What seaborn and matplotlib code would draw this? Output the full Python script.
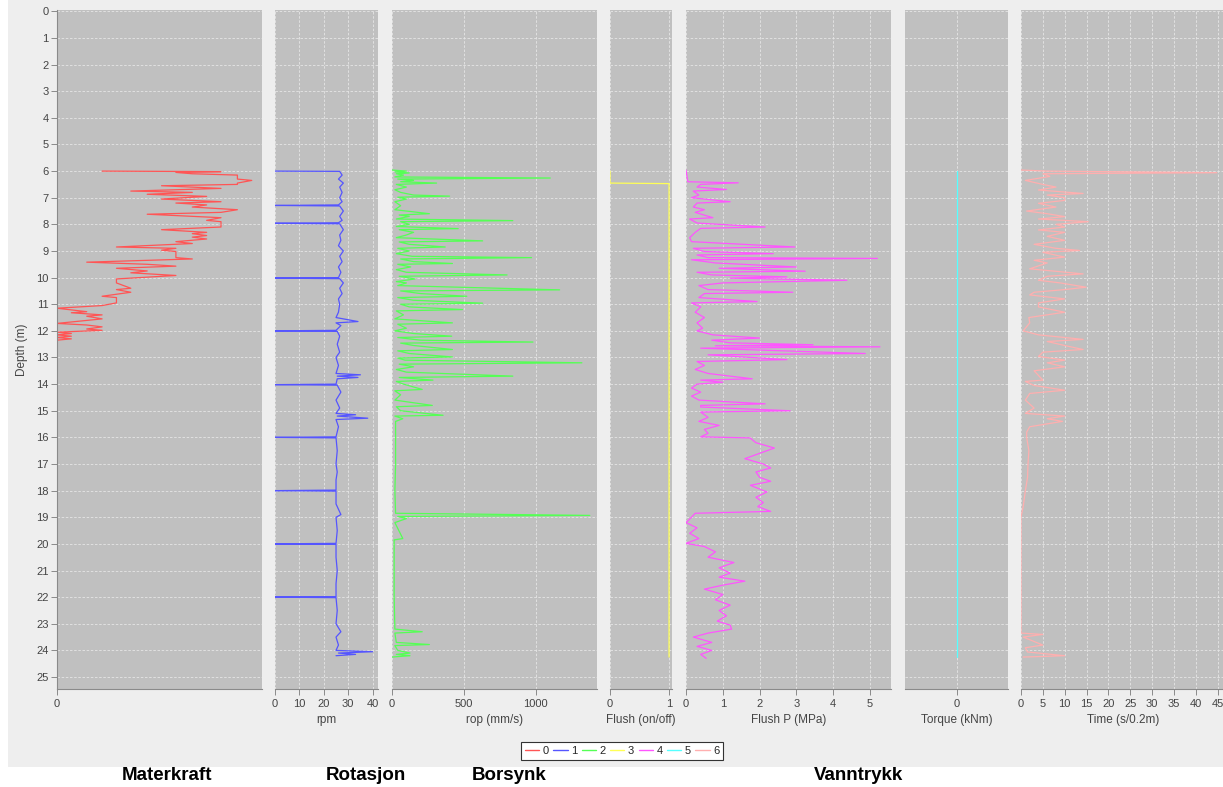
import matplotlib
matplotlib.use('Agg')
import matplotlib.pyplot as plt
import seaborn as sns
from matplotlib.patches import Rectangle
from matplotlib.lines import Line2D

W, H = 1223, 787

# ---- data: depth (m) and value for each log ----
mat_depth = [6.0, 6.02, 6.05, 6.1, 6.15, 6.3, 6.35, 6.45, 6.5, 6.55, 6.65, 6.75, 6.8, 6.87,
             6.95, 7.05, 7.15, 7.2, 7.27, 7.35, 7.45, 7.55, 7.62, 7.75, 7.85, 7.9, 8.1, 8.2,
             8.3, 8.35, 8.42, 8.48, 8.55, 8.65, 8.72, 8.85, 8.9, 8.97, 9.02, 9.25, 9.3, 9.42,
             9.5, 9.57, 9.65, 9.75, 9.82, 9.92, 10.05, 10.2, 10.4, 10.45, 10.55, 10.7, 10.75,
             10.95, 11.05, 11.15, 11.28, 11.32, 11.4, 11.45, 11.55, 11.72, 11.78, 11.85, 11.93,
             11.98, 12.05, 12.1, 12.15, 12.2, 12.25, 12.3, 12.35, 24.27]
mat_val = [2.2, 8.0, 5.8, 6.6, 8.8, 8.8, 9.5, 8.8, 8.8, 5.1, 8.0, 3.6, 6.6, 4.4,
           7.3, 5.1, 8.0, 5.8, 7.3, 6.6, 8.8, 8.0, 4.4, 8.0, 7.3, 8.0, 8.0, 5.1,
           7.3, 6.6, 7.3, 6.6, 7.3, 5.8, 6.6, 2.9, 5.8, 5.1, 5.8, 5.8, 6.6, 1.45,
           4.4, 5.8, 2.9, 4.4, 3.6, 5.8, 2.9, 2.9, 3.6, 2.9, 3.6, 2.2, 2.9,
           2.9, 2.2, 0.0, 1.45, 0.7, 2.2, 1.45, 2.2, 0.0, 1.45, 2.2, 1.45,
           2.2, 0.0, 0.7, 0.0, 0.7, 0.0, 0.7, 0.0, 0.0]

rpm_depth = [6.0, 6.01, 6.15, 6.3, 6.45, 6.6, 6.8, 7.0, 7.15, 7.27, 7.29, 7.31, 7.5, 7.7, 7.85,
             7.94, 7.96, 7.98, 8.2, 8.4, 8.6, 8.8, 9.0, 9.2, 9.4, 9.6, 9.8, 10.0, 10.02, 10.04,
             10.2, 10.4, 10.6, 10.8, 11.0, 11.3, 11.5, 11.65, 11.7, 11.8, 11.98, 12.0, 12.02,
             12.2, 12.5, 12.8, 13.0, 13.3, 13.6, 13.65, 13.7, 13.75, 13.8, 14.0, 14.02, 14.04,
             14.3, 14.6, 14.9, 15.1, 15.15, 15.2, 15.28, 15.33, 15.6, 15.98, 16.0, 16.02, 16.5,
             17.0, 17.3, 17.6, 17.98, 18.0, 18.02, 18.5, 18.9, 19.0, 19.5, 19.98, 20.0, 20.02,
             20.5, 21.0, 21.5, 21.98, 22.0, 22.02, 22.5, 23.0, 23.3, 23.5, 23.8, 24.0, 24.05,
             24.1, 24.15, 24.2]
rpm_val = [0, 26.5, 27.5, 26, 28, 26.5, 27.5, 26.5, 27.5, 26, 0, 26.5, 28, 26.5, 27.5,
           26, 0, 26.5, 28, 26.5, 27, 26, 28, 26.5, 27.5, 26, 27, 26, 0, 26.5,
           28, 26.5, 27.5, 26, 26.5, 26, 25, 34, 25, 27, 25, 0, 25.5,
           26.5, 25.5, 26.5, 25, 26, 25, 35, 25.5, 34, 25.5, 25, 0, 25.5,
           27, 25, 26.5, 25, 33, 25.5, 38, 25, 26, 25, 0, 25, 25.5,
           25, 25.5, 25, 25, 0, 25, 25, 27, 25, 25.5, 25, 0, 25,
           25, 25.5, 25, 25, 0, 25, 25.5, 25, 27, 25, 26, 25, 40,
           26, 33, 25]

rop_depth = [5.96, 6.0, 6.03, 6.07, 6.1, 6.15, 6.22, 6.26, 6.3, 6.35, 6.4, 6.45, 6.5, 6.6, 6.7,
             6.8, 6.9, 6.94, 6.98, 7.05, 7.15, 7.3, 7.45, 7.6, 7.65, 7.7, 7.8, 7.86, 7.9, 8.0,
             8.08, 8.16, 8.2, 8.3, 8.4, 8.5, 8.62, 8.66, 8.75, 8.85, 8.9, 9.0, 9.1, 9.2, 9.25,
             9.3, 9.4, 9.47, 9.5, 9.6, 9.7, 9.8, 9.9, 9.95, 10.05, 10.15, 10.2, 10.3, 10.46,
             10.5, 10.6, 10.7, 10.75, 10.85, 10.96, 11.0, 11.1, 11.2, 11.25, 11.4, 11.55, 11.7,
             11.75, 11.9, 12.0, 12.1, 12.2, 12.25, 12.35, 12.42, 12.46, 12.55, 12.7, 12.75,
             12.85, 12.98, 13.02, 13.1, 13.2, 13.25, 13.35, 13.45, 13.55, 13.7, 13.75, 13.85,
             13.9, 14.0, 14.2, 14.25, 14.4, 14.6, 14.8, 14.85, 15.0, 15.17, 15.2, 15.3, 15.4,
             16.0, 17.0, 18.0, 18.85, 18.93, 18.97, 19.05, 19.2, 19.8, 19.85, 21.0, 22.0, 23.2,
             23.3, 23.35, 23.7, 23.78, 23.82, 24.0, 24.1, 24.15, 24.2, 24.25]
rop_val = [0, 100, 20, 120, 30, 80, 20, 1100, 40, 150, 60, 310, 30, 100, 20,
           60, 150, 400, 40, 100, 20, 60, 20, 260, 50, 120, 30, 840, 60, 120,
           30, 460, 50, 150, 100, 30, 630, 50, 120, 370, 40, 120, 30, 140, 970,
           60, 150, 420, 40, 130, 30, 100, 800, 50, 160, 30, 100, 40, 1165,
           60, 200, 520, 40, 150, 630, 60, 120, 490, 30, 80, 20, 420,
           40, 100, 20, 150, 415, 40, 200, 980, 60, 150, 420, 40,
           120, 420, 40, 90, 1320, 50, 150, 30, 100, 840, 50, 285,
           30, 80, 210, 20, 60, 20, 280, 30, 60, 355, 20, 75, 25,
           25, 25, 20, 25, 1375, 40, 100, 20, 75, 15, 15, 15, 20,
           210, 20, 30, 260, 20, 40, 125, 30, 125, 0]

flush_depth = [6.0, 6.45, 6.47, 24.25]
flush_val = [0, 0, 1, 1]

fp_depth = [5.96, 6.4, 6.44, 6.5, 6.6, 6.69, 6.75, 6.9, 7.0, 7.15, 7.2, 7.35, 7.45, 7.55, 7.75,
            7.8, 7.95, 8.1, 8.15, 8.3, 8.5, 8.65, 8.85, 8.9, 9.02, 9.1, 9.15, 9.25, 9.28, 9.33,
            9.45, 9.6, 9.65, 9.76, 9.8, 9.9, 9.97, 10.02, 10.1, 10.2, 10.3, 10.45, 10.55, 10.6,
            10.75, 10.9, 10.95, 11.1, 11.3, 11.5, 11.7, 11.9, 12.0, 12.15, 12.27, 12.35, 12.45,
            12.52, 12.56, 12.6, 12.65, 12.85, 12.9, 13.08, 13.15, 13.3, 13.45, 13.6, 13.8,
            13.85, 13.93, 14.0, 14.15, 14.3, 14.45, 14.6, 14.74, 14.8, 14.86, 15.0, 15.05,
            15.25, 15.4, 15.55, 15.7, 15.85, 15.98, 16.02, 16.2, 16.4, 16.6, 16.8, 17.0, 17.15,
            17.3, 17.5, 17.65, 17.8, 18.05, 18.25, 18.45, 18.6, 18.78, 18.85, 19.0, 19.2, 19.4,
            19.6, 19.8, 19.98, 20.1, 20.3, 20.5, 20.7, 20.9, 21.1, 21.25, 21.4, 21.55, 21.7,
            21.9, 22.1, 22.3, 22.5, 22.7, 22.9, 23.05, 23.2, 23.35, 23.5, 23.7, 23.85, 24.0,
            24.15, 24.3]
fp_val = [0, 0.05, 1.42, 0.4, 0.3, 1.1, 0.2, 0.35, 0.15, 1.2, 0.3, 0.2, 0.5, 0.25, 0.73,
          0.1, 0.3, 2.15, 0.4, 0.25, 0.1, 0.15, 2.96, 0.2, 0.5, 2.37, 0.3, 0.6, 5.2, 0.15,
          0.8, 3.0, 0.9, 3.24, 0.3, 0.7, 2.74, 1.2, 4.37, 1.0, 0.35, 0.6, 2.9, 0.5,
          0.35, 1.93, 0.15, 0.4, 0.25, 0.5, 0.3, 0.45, 0.3, 0.73, 2.0, 0.7, 1.2,
          3.45, 0.8, 5.27, 0.4, 4.87, 0.6, 2.74, 0.3, 0.5, 0.25, 0.6, 1.8,
          0.4, 1.0, 0.3, 0.15, 0.4, 0.15, 0.35, 2.15, 0.4, 0.4, 2.83, 0.4,
          0.6, 0.35, 0.9, 0.5, 0.6, 0.4, 1.74, 1.9, 2.4, 2.0, 1.6, 2.1, 2.3,
          1.9, 2.0, 2.3, 1.75, 2.2, 1.9, 2.1, 1.95, 2.3, 0.25, 0.15, 0.0, 0.3,
          0.1, 0.35, 0.0, 0.5, 0.8, 0.6, 1.3, 0.9, 1.2, 0.9, 1.6, 1.0, 0.5,
          1.0, 0.8, 1.2, 0.9, 1.1, 0.85, 1.2, 1.24, 0.6, 0.2, 0.7, 0.3, 0.7,
          0.4, 0.55]

torque_depth = [6.0, 24.25]
torque_val = [0, 0]

time_depth = [5.96, 6.0, 6.06, 6.1, 6.2, 6.35, 6.5, 6.6, 6.71, 6.84, 6.9, 7.0, 7.1, 7.21, 7.35,
              7.5, 7.6, 7.71, 7.8, 7.9, 8.0, 8.1, 8.21, 8.3, 8.45, 8.6, 8.75, 8.9, 8.98, 9.05,
              9.23, 9.35, 9.45, 9.67, 9.86, 9.95, 10.1, 10.2, 10.36, 10.45, 10.55, 10.65, 10.8,
              10.95, 11.1, 11.3, 11.5, 11.7, 12.0, 12.15, 12.32, 12.4, 12.55, 12.7, 12.8, 12.96,
              13.1, 13.2, 13.35, 13.5, 13.85, 13.9, 14.05, 14.23, 14.35, 14.6, 14.9, 15.1, 15.2,
              15.3, 15.4, 15.6, 15.8, 16.0, 16.5, 17.0, 17.5, 18.0, 18.6, 19.0, 23.35, 23.4,
              23.5, 23.6, 23.8, 23.9, 24.06, 24.2, 24.25]
time_val = [0, 6, 44.8, 5, 6.6, 1, 5, 8, 4, 14.2, 6, 10, 10, 4, 8,
            1.3, 6, 10, 4, 15.4, 8, 10, 4, 10, 6, 10, 3, 8, 13.4, 5,
            10, 3, 6, 2, 14.2, 6, 4, 9, 14.9, 10, 3, 2, 10,
            4, 4, 10, 1.8, 2, 0.5, 4, 14.2, 6, 10, 14.2, 5, 4,
            10, 6, 10, 3, 5, 1, 3, 10, 2, 1, 3, 1, 10,
            6, 9.5, 2, 1.3, 1.3, 1.8, 1.6, 1.5, 1.0, 0.5, 0, 0, 5,
            0.5, 2, 5, 1, 1.5, 10, 0.5]

colors = ['#FF5555', '#5555FF', '#55FF55', '#FFFF55', '#FF55FF', '#55FFFF', '#FFAFAF']

# ---- style ----
sns.set_style('whitegrid', {
    'axes.facecolor': '#C0C0C0',
    'grid.color': '#E6E6E6',
    'grid.linestyle': (0, (3, 2)),
    'axes.edgecolor': '#8A8A8A',
})
plt.rcParams['font.family'] = ['Liberation Sans', 'DejaVu Sans']
plt.rcParams['grid.linewidth'] = 0.6

fig = plt.figure(figsize=(W / 100, H / 100), dpi=100, facecolor='white')
fig.patches.append(Rectangle((8 / W, 1 - 767 / H), 1, 767 / H, transform=fig.transFigure,
                             facecolor='#EEEEEE', edgecolor='none', zorder=-10))

TOP, BOT = 10, 689


def make_ax(left, right):
    return fig.add_axes([left / W, 1 - BOT / H, (right - left) / W, (BOT - TOP) / H])


panels = [
    # (left px, right px, depth, values, xlim, xticks, xlabel)
    (57, 262, mat_depth, mat_val, (0, 10), [0], ''),
    (275, 378, rpm_depth, rpm_val, (0, 42.2), [0, 10, 20, 30, 40], 'rpm'),
    (392, 597, rop_depth, rop_val, (0, 1425), [0, 500, 1000], 'rop (mm/s)'),
    (610, 672, flush_depth, flush_val, (0, 1.05), [0, 1], 'Flush (on/off)'),
    (686, 891, fp_depth, fp_val, (0, 5.57), [0, 1, 2, 3, 4, 5], 'Flush P (MPa)'),
    (905, 1008, torque_depth, torque_val, (-1, 0.98), [0], 'Torque (kNm)'),
    (1021, 1226, time_depth, time_val, (0, 46.9), list(range(0, 50, 5)), 'Time (s/0.2m)'),
]

for i, (l, r, d, v, xlim, xt, xlab) in enumerate(panels):
    ax = make_ax(l, r)
    sns.lineplot(x=v, y=d, sort=False, estimator=None, color=colors[i], linewidth=0.9, ax=ax)
    ax.set_xlim(*xlim)
    ax.set_ylim(25.45, -0.05)
    ax.set_xticks(xt)
    ax.set_yticks(range(0, 26))
    ax.grid(True, axis='both')
    for s in ['top', 'right', 'left']:
        ax.spines[s].set_visible(False)
    ax.spines['bottom'].set_color('#8A8A8A')
    ax.tick_params(axis='x', direction='out', length=4, width=0.7, color='#8A8A8A',
                   labelsize=8, labelcolor='#444444', pad=3, bottom=True)
    ax.set_xlabel(xlab, fontsize=8.5, color='#444444', labelpad=4)
    if i == 0:
        ax.spines['left'].set_visible(True)
        ax.spines['left'].set_color('#8A8A8A')
        ax.tick_params(axis='y', direction='out', length=4, width=0.7, color='#8A8A8A',
                       labelsize=8, labelcolor='#444444', pad=2, left=True)
        ax.set_ylabel('Depth (m)', fontsize=8.5, color='#444444', labelpad=6)
    else:
        ax.tick_params(axis='y', left=False, labelleft=False)
        ax.set_ylabel('')

handles = [Line2D([], [], color=c, linewidth=1) for c in colors]
leg = fig.legend(handles, [str(k) for k in range(7)], loc='center', ncol=7,
                 bbox_to_anchor=(622 / W, 1 - 751 / H), fontsize=8, handlelength=1.3,
                 handletextpad=0.3, columnspacing=0.4, borderpad=0.35, frameon=True,
                 fancybox=False, edgecolor='#333333', facecolor='white', framealpha=1)
leg.get_frame().set_linewidth(0.8)

for label, xc in [('Materkraft', 167), ('Rotasjon', 366), ('Borsynk', 509), ('Vanntrykk', 859)]:
    fig.text(xc / W, 1 - 775 / H, label, ha='center', va='center', fontsize=13.5,
             fontweight='bold', color='black')

fig.savefig('out.png', dpi=100, facecolor=fig.get_facecolor())
